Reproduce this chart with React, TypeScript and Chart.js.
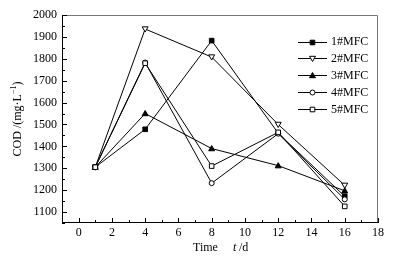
import React, { useEffect, useRef } from 'react';
import { Chart, registerables } from 'chart.js';

Chart.register(...registerables);

const days = [1, 4, 8, 12, 16];
const mfc1 = [1305, 1478, 1883, 1460, 1172];
const mfc2 = [1305, 1936, 1808, 1500, 1222];
const mfc3 = [1305, 1550, 1390, 1312, 1197];
const mfc4 = [1305, 1783, 1232, 1458, 1158];
const mfc5 = [1305, 1780, 1310, 1464, 1126];
const seriesNames = ['1#MFC', '2#MFC', '3#MFC', '4#MFC', '5#MFC'];
const xTicks = [0, 2, 4, 6, 8, 10, 12, 14, 16, 18];
const yTicks = [1100, 1200, 1300, 1400, 1500, 1600, 1700, 1800, 1900, 2000];
const xMinor = [-1, 1, 3, 5, 7, 9, 11, 13, 15, 17];
const yMinor = [1050, 1150, 1250, 1350, 1450, 1550, 1650, 1750, 1850, 1950];

const FONT = '"Liberation Serif", "Times New Roman", serif';

type Mk = { shape: string; fill: boolean; down?: boolean };
const markers: Mk[] = [
  { shape: 'rect', fill: true },
  { shape: 'triangle', fill: false, down: true },
  { shape: 'triangle', fill: true },
  { shape: 'circle', fill: false },
  { shape: 'rect', fill: false },
];

function drawMarker(ctx: CanvasRenderingContext2D, m: Mk, x: number, y: number) {
  ctx.save();
  ctx.beginPath();
  if (m.shape === 'rect') {
    ctx.rect(x - 2.3, y - 2.3, 4.6, 4.6);
  } else if (m.shape === 'circle') {
    ctx.arc(x, y, 2.5, 0, Math.PI * 2);
  } else {
    const s = m.down ? -1 : 1;
    ctx.moveTo(x, y - 3 * s);
    ctx.lineTo(x - 3, y + 2.2 * s);
    ctx.lineTo(x + 3, y + 2.2 * s);
    ctx.closePath();
  }
  ctx.fillStyle = m.fill ? '#000' : '#fff';
  ctx.fill();
  ctx.lineWidth = 1;
  ctx.strokeStyle = '#000';
  ctx.stroke();
  ctx.restore();
}

const decorPlugin = {
  id: 'decor',
  afterDatasetsDraw(chart: any) {
    const ctx: CanvasRenderingContext2D = chart.ctx;
    const { left, right, top, bottom } = chart.chartArea;
    const xs = chart.scales.x;
    const ys = chart.scales.y;
    chart.data.datasets.forEach((ds: any, i: number) => {
      const meta = chart.getDatasetMeta(i);
      meta.data.forEach((pt: any) => drawMarker(ctx, markers[i], pt.x, pt.y));
    });
    ctx.save();
    ctx.lineWidth = 1;
    ctx.strokeStyle = '#777';
    ctx.beginPath();
    ctx.moveTo(left, top + 0.5);
    ctx.lineTo(right - 0.5, top + 0.5);
    ctx.lineTo(right - 0.5, bottom);
    ctx.stroke();
    ctx.strokeStyle = '#000';
    ctx.beginPath();
    ctx.moveTo(left + 0.5, top);
    ctx.lineTo(left + 0.5, bottom - 0.5);
    ctx.lineTo(right, bottom - 0.5);
    ctx.stroke();
    ctx.beginPath();
    xTicks.forEach((v) => {
      const p = Math.round(xs.getPixelForValue(v)) + 0.5;
      ctx.moveTo(p, bottom);
      ctx.lineTo(p, bottom - 5);
    });
    xMinor.forEach((v) => {
      const p = Math.round(xs.getPixelForValue(v)) + 0.5;
      ctx.moveTo(p, bottom);
      ctx.lineTo(p, bottom - 3);
    });
    yTicks.forEach((v) => {
      const p = Math.round(ys.getPixelForValue(v)) + 0.5;
      ctx.moveTo(left, p);
      ctx.lineTo(left + 5, p);
    });
    yMinor.forEach((v) => {
      const p = Math.round(ys.getPixelForValue(v)) + 0.5;
      ctx.moveTo(left, p);
      ctx.lineTo(left + 3, p);
    });
    ctx.stroke();

    const lx0 = 298, lx1 = 327, ly0 = 41.5, dy = 16.9;
    seriesNames.forEach((name, i) => {
      const y = ly0 + i * dy;
      ctx.beginPath();
      ctx.strokeStyle = '#000';
      ctx.lineWidth = 1;
      ctx.moveTo(lx0, Math.round(y) + 0.5);
      ctx.lineTo(lx1, Math.round(y) + 0.5);
      ctx.stroke();
      drawMarker(ctx, markers[i], (lx0 + lx1) / 2, Math.round(y) + 0.5);
      ctx.fillStyle = '#000';
      ctx.font = `12px ${FONT}`;
      ctx.textBaseline = 'middle';
      ctx.textAlign = 'left';
      ctx.fillText(name, 331, y + 0.5);
    });

    ctx.save();
    ctx.translate(18, (top + bottom) / 2);
    ctx.rotate(-Math.PI / 2);
    ctx.textBaseline = 'middle';
    const a = 'COD /(mg·L';
    const sup = '−1';
    const c = ')';
    ctx.font = `12px ${FONT}`;
    const wa = ctx.measureText(a).width;
    const wc = ctx.measureText(c).width;
    ctx.font = `8px ${FONT}`;
    const ws = ctx.measureText(sup).width;
    const total = wa + ws + wc;
    let x = -total / 2;
    ctx.textAlign = 'left';
    ctx.font = `12px ${FONT}`;
    ctx.fillText(a, x, 0);
    x += wa;
    ctx.font = `8px ${FONT}`;
    ctx.fillText(sup, x, -4);
    x += ws;
    ctx.font = `12px ${FONT}`;
    ctx.fillText(c, x, 0);
    ctx.restore();

    ctx.font = `12px ${FONT}`;
    ctx.textBaseline = 'middle';
    ctx.textAlign = 'left';
    ctx.fillStyle = '#000';
    ctx.fillText('Time', 193, 248);
    ctx.font = `italic 12px ${FONT}`;
    ctx.fillText('t', 233, 248);
    ctx.font = `12px ${FONT}`;
    ctx.fillText(' /d', 236, 248);
    ctx.restore();
  },
};

export default function App() {
  const ref = useRef<HTMLCanvasElement>(null);
  useEffect(() => {
    if (!ref.current) return;
    const series = [mfc1, mfc2, mfc3, mfc4, mfc5];
    const chart = new Chart(ref.current, {
      type: 'line',
      data: {
        datasets: series.map((vals, i) => ({
          label: seriesNames[i],
          data: days.map((d, j) => ({ x: d, y: vals[j] })),
          borderColor: '#000',
          borderWidth: 1,
          pointRadius: 0,
          fill: false,
          tension: 0,
        })),
      },
      options: {
        responsive: false,
        animation: false,
        events: [],
        layout: { padding: { top: 15, right: 17, left: 0, bottom: 0 } },
        plugins: { legend: { display: false }, tooltip: { enabled: false } },
        scales: {
          x: {
            type: 'linear',
            min: -1,
            max: 18,
            afterBuildTicks: (s: any) => {
              s.ticks = xTicks.map((v) => ({ value: v }));
            },
            afterFit: (s: any) => {
              s.height = 39;
            },
            grid: { display: false, drawTicks: false },
            border: { display: false },
            ticks: {
              color: '#000',
              font: { family: FONT, size: 12 },
              padding: 3,
              maxRotation: 0,
              autoSkip: false,
              callback: (v: any) => String(v),
            },
          },
          y: {
            type: 'linear',
            min: 1050,
            max: 2000,
            afterBuildTicks: (s: any) => {
              s.ticks = yTicks.map((v) => ({ value: v }));
            },
            afterFit: (s: any) => {
              s.width = 62;
            },
            grid: { display: false, drawTicks: false },
            border: { display: false },
            ticks: {
              color: '#000',
              font: { family: FONT, size: 12 },
              padding: 5,
              autoSkip: false,
              callback: (v: any) => String(v),
            },
          },
        },
      },
      plugins: [decorPlugin],
    });
    return () => chart.destroy();
  }, []);
  return (
    <div style={{ position: 'fixed', left: 0, top: 0, width: 395, height: 262, background: '#fff' }}>
      <canvas ref={ref} width={395} height={262} style={{ width: 395, height: 262 }} />
    </div>
  );
}
